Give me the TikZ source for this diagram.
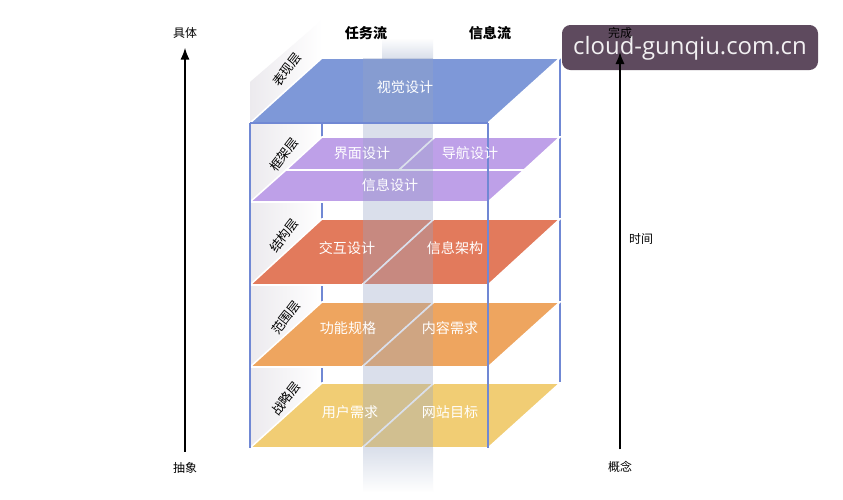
\documentclass[tikz,border=0pt]{standalone}
\usepackage{fontspec}
\setmainfont{Noto Sans CJK SC}
\newfontfamily\wmfont{Open Sans}
\usetikzlibrary{arrows.meta}

\definecolor{lineblue}{RGB}{112,136,212}
\definecolor{planeblue}{RGB}{126,152,216}
\definecolor{planepurple}{RGB}{190,160,232}
\definecolor{planered}{RGB}{226,122,92}
\definecolor{planeorange}{RGB}{238,165,95}
\definecolor{planeyellow}{RGB}{241,205,116}
\definecolor{bandc}{RGB}{150,166,198}
\definecolor{wallc}{RGB}{236,234,238}
\definecolor{wmc}{RGB}{94,74,94}

\tikzset{
  plane/.style={draw=white, line width=1.1pt},
  wall/.style={left color=wallc, right color=white},
  txt/.style={text=white, font=\fontsize{10}{12}\selectfont},
  layer/.style={rotate=52, inner sep=1pt, font=\fontsize{9}{11}\selectfont},
  axis/.style={line width=1.2pt, -{Latex[length=3mm,width=2.3mm]}},
  axlab/.style={font=\fontsize{8.5}{10}\selectfont},
  head/.style={font=\bfseries\fontsize{10}{12}\selectfont},
  boxline/.style={lineblue, line width=1pt}
}

\begin{document}
\begin{tikzpicture}[x=0.025cm,y=-0.025cm]
    \useasboundingbox (0,0) rectangle (843,500);
    \fill[white] (0,0) rectangle (843,500);

    % Paredes laterales (etiquetas de capa)
    \shade[wall] (250,123) -- (322,58) -- (322,20) -- (250,82) -- cycle;
    \shade[wall] (250,202) -- (322,137) -- (322,123) -- (250,123) -- cycle;
    \shade[wall] (250,285) -- (322,219) -- (322,202) -- (250,202) -- cycle;
    \shade[wall] (250,367) -- (322,302) -- (322,285) -- (250,285) -- cycle;
    \shade[wall] (250,448) -- (322,383) -- (322,367) -- (250,367) -- cycle;

    % Aristas traseras
    \draw[boxline] (322,58) -- (322,383);
    \draw[boxline] (560,58) -- (560,383);

    % Capa 1: 表现层
    \fill[planeblue, plane] (250,123) -- (488,123) -- (560,58) -- (322,58) -- cycle;

    % Capa 2: 框架层
    \fill[planepurple, plane] (250,202) -- (488,202) -- (524,170) -- (286,170) -- cycle;
    \fill[planepurple, plane] (286,170) -- (399,170) -- (435,137) -- (322,137) -- cycle;
    \fill[planepurple, plane] (399,170) -- (524,170) -- (560,137) -- (435,137) -- cycle;

    % Capa 3: 结构层
    \fill[planered, plane] (250,285) -- (362,285) -- (434,219) -- (322,219) -- cycle;
    \fill[planered, plane] (362,285) -- (488,285) -- (560,219) -- (434,219) -- cycle;

    % Capa 4: 范围层
    \fill[planeorange, plane] (250,367) -- (362,367) -- (434,302) -- (322,302) -- cycle;
    \fill[planeorange, plane] (362,367) -- (488,367) -- (560,302) -- (434,302) -- cycle;

    % Capa 5: 战略层
    \fill[planeyellow, plane] (250,448) -- (362,448) -- (434,383) -- (322,383) -- cycle;
    \fill[planeyellow, plane] (362,448) -- (488,448) -- (560,383) -- (434,383) -- cycle;

    % Franja translúcida
    \shade[top color=white, bottom color=bandc, opacity=.35] (382,38) rectangle (433,58);
    \fill[bandc, opacity=.35] (363,58) rectangle (433,448);
    \shade[top color=bandc, bottom color=white, opacity=.35] (363,448) rectangle (433,492);

    % Aristas delanteras
    \draw[boxline] (250,123) -- (250,448);
    \draw[boxline] (488,123) -- (488,448);
    \draw[boxline] (250,123) -- (488,123);

    % Textos de las capas
    \node[txt] (vis) at (405,87) {视觉设计};
    \node[txt] (iface) at (362,153) {界面设计};
    \node[txt] (nav) at (470,153) {导航设计};
    \node[txt] (infod) at (390,185) {信息设计};
    \node[txt] (inter) at (347,248) {交互设计};
    \node[txt] (arch) at (455,248) {信息架构};
    \node[txt] (func) at (348,328) {功能规格};
    \node[txt] (cont) at (450,328) {内容需求};
    \node[txt] (user) at (350,412) {用户需求};
    \node[txt] (site) at (450,412) {网站目标};

    % Nombres de capa
    \node[layer] (l1) at (287,70) {表现层};
    \node[layer] (l2) at (284,155) {框架层};
    \node[layer] (l3) at (284,236) {结构层};
    \node[layer] (l4) at (286,318) {范围层};
    \node[layer] (l5) at (286,399) {战略层};

    % Encabezados
    \node[head] (task) at (366,33) {任务流};
    \node[head] (info) at (490,33) {信息流};

    % Eje izquierdo
    \node[axlab] (abs) at (185,468) {抽象};
    \node[axlab] (conc) at (185,33) {具体};
    \draw[axis, shorten <=4pt, shorten >=3pt] (abs) -- (conc);

    % Marca de agua
    \fill[wmc, rounded corners=6] (562,25) rectangle (818,70);
    \node[text=white!92!wmc, font=\wmfont\fontsize{17}{19}\selectfont] (wm) at (690,48) {cloud-gunqiu.com.cn};

    % Eje derecho
    \node[axlab] (concept) at (620,467) {概念};
    \node[axlab] (done) at (620,33) {完成};
    \node[axlab] (time) at (641,239) {时间};
    \draw[axis, shorten <=5pt, shorten >=6pt] (concept) -- (done);
\end{tikzpicture}
\end{document}
